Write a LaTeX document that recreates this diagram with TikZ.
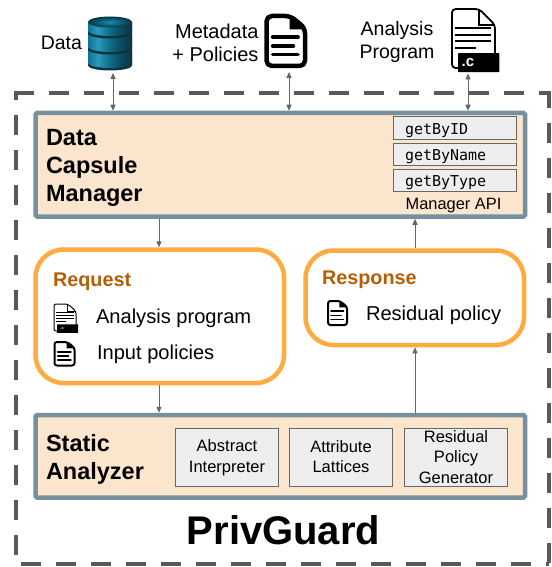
\documentclass[tikz,border=0pt]{standalone}
\usepackage{fontspec}
\setmainfont{Liberation Sans}
\newfontfamily\apimono{DejaVu Sans Mono}
\usetikzlibrary{arrows.meta}
\definecolor{dashgray}{HTML}{595959}
\definecolor{slate}{HTML}{76909F}
\definecolor{peach}{HTML}{FCE5CD}
\definecolor{lightgray}{HTML}{EEEEEE}
\definecolor{boxedge}{HTML}{666666}
\definecolor{orangeedge}{HTML}{FFAB40}
\definecolor{brownhead}{HTML}{B45F06}
\definecolor{dbdark}{HTML}{0A3342}
\definecolor{dbteal}{HTML}{128FB4}
\pgfdeclarehorizontalshading{dbbody}{100bp}{
  color(0bp)=(dbteal!80!black);
  color(25bp)=(dbteal!80!black);
  color(36bp)=(dbteal!90!white);
  color(48bp)=(dbteal!80!black);
  color(62bp)=(dbdark!75!dbteal);
  color(75bp)=(dbdark);
  color(100bp)=(dbdark)}
\tikzset{
  every node/.style={inner sep=0pt,outer sep=0pt},
  component/.style={draw=slate,line width=4.5pt,fill=peach,rounded corners=1.5pt},
  bubble/.style={draw=orangeedge,line width=4.5pt,fill=white,rounded corners=28pt},
  inner box/.style={draw=boxedge,line width=1pt,fill=lightgray},
  conn/.style={draw=boxedge,line width=1pt,-{Triangle[length=6pt,width=5pt]}},
  biconn/.style={draw=boxedge,line width=1pt,{Triangle[length=6pt,width=5pt]}-{Triangle[length=6pt,width=5pt]}},
  label/.style={font=\fontsize{19.5pt}{23pt}\selectfont,align=center},
  head/.style={font=\fontsize{23.5pt}{28pt}\selectfont\bfseries,align=left},
  sub/.style={font=\fontsize{19.8pt}{24pt}\selectfont\bfseries,text=brownhead},
  item/.style={font=\fontsize{20.1pt}{24pt}\selectfont},
  api/.style={font=\fontsize{15pt}{18pt}\selectfont\apimono},
  small/.style={font=\fontsize{16.5pt}{20.5pt}\selectfont,align=center},
  icon slot/.style={minimum width=#1,minimum height=1pt},
  frame/.style={dashgray,line width=4.5pt},
}
% document with bold outline: box from (x,y) of size w x h, drawn in unit 0..1
\newcommand{\policydoc}[5]{%
  \begin{scope}[shift={(#1,#2)},x=#3pt,y=-#4pt]
    \draw[black,line width=#5pt,line join=round,rounded corners=#5*1.2pt]
      (0,0) -- (0.62,0) -- (1,0.24) -- (1,1) -- (0,1) -- cycle;
    \fill[black] (0.60,0) -- (0.66,0) -- (1,0.24) -- (1,0.27) -- (0.60,0.27) -- cycle;
    \draw[black,line width=#5pt*0.8,line cap=round] (0.16,0.42) -- (0.82,0.42) (0.16,0.60) -- (0.70,0.60) (0.16,0.77) -- (0.82,0.77);
  \end{scope}}
% source file with black .c label
\newcommand{\cdoc}[7]{%
  \begin{scope}[shift={(#1,#2)},x=#3pt,y=-#4pt]
    \draw[black,line width=#5pt,line join=round,rounded corners=#5*2pt]
      (0,0) -- (0.63,0) -- (1,0.27) -- (1,1) -- (0,1) -- cycle;
    \draw[black,line width=#5pt] (0.63,0) -- (0.63,0.27) -- (1,0.27);
    \draw[black,line width=#5pt*0.8] (0.07,0.32) -- (0.91,0.32) (0.07,0.44) -- (0.91,0.44) (0.07,0.54) -- (0.91,0.54) (0.07,0.66) -- (0.55,0.66);
    \fill[black,rounded corners=0.5pt] (0.14,0.75) rectangle (1.1,1.07);
    \node[text=white,font=\fontsize{#6pt}{#6pt}\selectfont\bfseries] (#7) at (0.37,0.91) {.c};
  \end{scope}}
% one disk of the database: side top y, side bottom y
\newcommand{\dbdisk}[2]{%
  \fill[dbdark] (88,#1) -- (88,#2+2.5) arc[start angle=180,end angle=360,x radius=22pt,y radius=5pt] -- (132,#1) -- cycle;
  \shade[shading=dbbody,shading angle=0] (88,#1) -- (88,#2) arc[start angle=180,end angle=360,x radius=22pt,y radius=5pt] -- (132,#1) -- cycle;
}
\begin{document}
\begin{tikzpicture}[x=1pt,y=-1pt]
\useasboundingbox (0,0) rectangle (551,567);
\fill[white] (0,0) rectangle (551,567);

% outer dashed frame
\draw[frame,dash pattern=on 20pt off 15pt] (14,93) -- (549,93);
\draw[frame,dash pattern=on 20pt off 15pt,dash phase=3pt] (549,91) -- (549,566);
\draw[frame,dash pattern=on 20pt off 15pt,dash phase=13pt] (16,93) -- (16,564);
\draw[frame,dash pattern=on 20pt off 15pt] (21,564) -- (549,564);

% icons
\node[icon slot=44pt,minimum height=52pt] (dbicon) at (110,43) {};
\node[icon slot=42pt,minimum height=56pt] (metaicon) at (286,42) {};
\node[icon slot=44pt,minimum height=65pt] (progicon) at (476,39) {};

% database: three stacked disks
\dbdisk{50}{63}
\dbdisk{34}{47}
\dbdisk{22}{31}
\shade[inner color=dbteal,outer color=dbdark] (110,22) ellipse[x radius=22pt,y radius=5.5pt];

\policydoc{266.5}{16}{38.5}{50}{4.5}
\cdoc{452}{9}{43}{59}{1.8}{15}{progc}

% labels over icons
\node[label,anchor=east] (datalabel) at (82,43) {Data};
\node[label,font=\fontsize{20pt}{23pt}\selectfont,anchor=east,align=right] (metalabel) at (258.5,43) {Metadata\\+ Policies};
\node[label] (proglabel) at (397,41.5) {Analysis\\Program};

% main components
\draw[component] (35.5,113) rectangle (525,216.5) ;
\node (dcm) at (280.25,164.75) [minimum width=494pt,minimum height=108pt] {};
\node[head,anchor=west] (dcmlabel) at (46,168) {Data\\Capsule\\Manager};
\node[inner box,minimum width=123pt,minimum height=22pt] (idbox) at (454.5,128) {};
\node[inner box,minimum width=123pt,minimum height=22pt] (namebox) at (454.5,154) {};
\node[inner box,minimum width=123pt,minimum height=22pt] (typebox) at (454.5,180) {};
\node[api,anchor=west] (idtext) at (405,131) {getByID};
\node[api,anchor=west] (nametext) at (405,157) {getByName};
\node[api,anchor=west] (typetext) at (405,183) {getByType};
\node[font=\fontsize{16.4pt}{20pt}\selectfont] (apilabel) at (453.5,206) {Manager API};

\draw[bubble] (35.5,249.5) rectangle (284,383);
\node (req) at (159.75,316.25) [minimum width=253pt,minimum height=138pt] {};
\node[sub,anchor=west] (reqhead) at (53,281.5) {Request};
\cdoc{54}{304}{22}{27}{1}{4}{reqc}
\policydoc{54.5}{342}{20}{23.5}{2}
\node[item,anchor=west] (reqa) at (96,318) {Analysis program};
\node[item,anchor=west] (reqb) at (97,354) {Input policies};

\draw[bubble] (305.5,250.5) rectangle (524,345);
\node (resp) at (414.75,297.75) [minimum width=223pt,minimum height=99pt] {};
\node[sub,anchor=west] (resphead) at (322,279.5) {Response};
\policydoc{328}{301}{19}{24}{2}
\node[item,anchor=west] (respa) at (366,315) {Residual policy};

\draw[component] (35.5,415) rectangle (525,497.5);
\node (sa) at (280.25,456.25) [minimum width=494pt,minimum height=87pt] {};
\node[head,anchor=west] (salabel) at (46,459) {Static\\Analyzer};
\node[inner box,minimum width=103pt,minimum height=58pt] (ai) at (227,457) {};
\node[inner box,minimum width=103pt,minimum height=58pt] (al) at (341,457) {};
\node[inner box,minimum width=103pt,minimum height=58pt] (rg) at (456,457) {};
\node[small] (aitext) at (227,457.5) {Abstract\\Interpreter};
\node[small] (altext) at (341,456.5) {Attribute\\Lattices};
\node[small] (rgtext) at (456,457) {Residual\\Policy\\Generator};

\node[font=\fontsize{40pt}{44pt}\selectfont\bfseries] (title) at (283.5,530) {PrivGuard};

% connectors
\coordinate (xa) at (113,0);
\coordinate (xb) at (289,0);
\coordinate (xc) at (468,0);
\coordinate (xd) at (159,0);
\coordinate (xe) at (415,0);
\draw[biconn] ([yshift=-4pt]dbicon.south -| xa) -- (dcm.north -| xa);
\draw[biconn] ([yshift=-2pt]metaicon.south -| xb) -- (dcm.north -| xb);
\draw[biconn] ([yshift=-2pt]progicon.south -| xc) -- (dcm.north -| xc);
\draw[conn] (dcm.south -| xd) -- (req.north -| xd);
\draw[conn] (resp.north -| xe) -- (dcm.south -| xe);
\draw[conn] (req.south -| xd) -- (sa.north -| xd);
\draw[conn] (sa.north -| xe) -- (resp.south -| xe);
\end{tikzpicture}
\end{document}
